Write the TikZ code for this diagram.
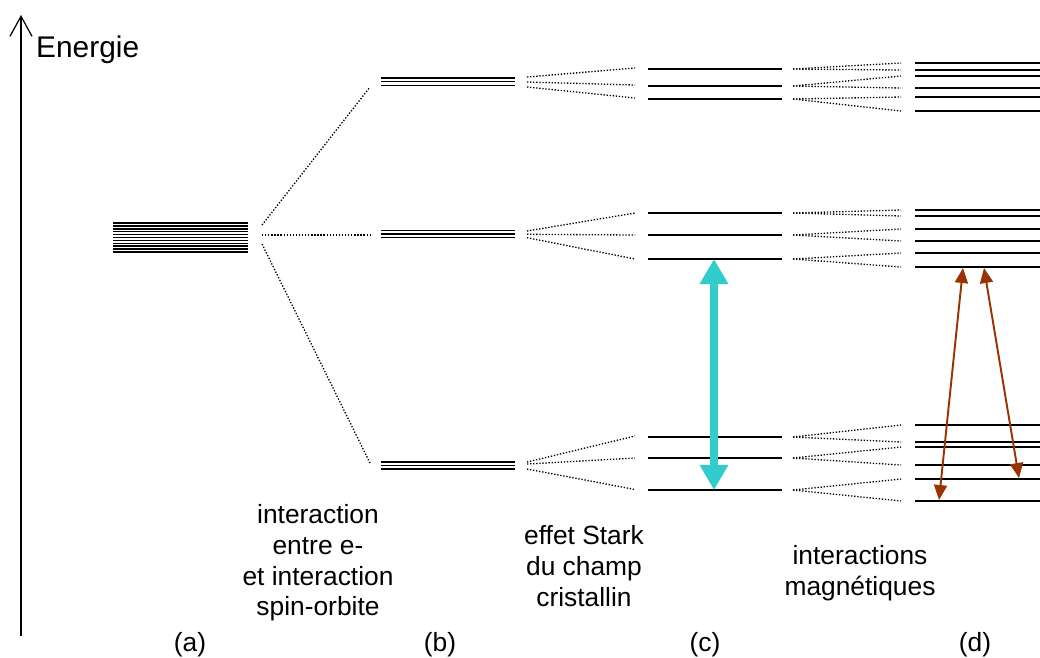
\documentclass[tikz,border=0pt]{standalone}
\usepackage{fontspec}
\setmainfont{Liberation Sans}
\usetikzlibrary{arrows.meta}
\definecolor{turq}{RGB}{51,204,204}
\definecolor{rust}{RGB}{153,51,0}

\begin{document}
\begin{tikzpicture}
  [
    x=0.02cm, y=-0.02cm,
    level/.style = {line width=0.85pt},
    fan/.style   = {densely dotted, line width=0.75pt},
    lbl/.style   = {font=\fontsize{15}{17.5}\selectfont, align=center},
  ]
\useasboundingbox (0,0) rectangle (1040,657);

%Left and right ends of the level columns
\def \laA{113} \def \raA{248}
\def \laB{381} \def \raB{515}
\def \laC{648} \def \raC{782}
\def \laD{915} \def \raD{1040}

%Energy axis
\draw[line width=0.9pt, -{Straight Barb[length=0.4cm,width=0.44cm,line width=0.7pt]}] (21,636) -- (21,15);
\node[anchor=west, font=\fontsize{17}{20}\selectfont] (energie) at (30,50) {Energie};

%(a) degenerate levels
\foreach \i in {0,...,10}
{
\draw[level] (\laA,223+\i*2.9) -- (\raA,223+\i*2.9);
}

%(b) levels
\foreach \y in {78,81.7,85.4,230.7,234,237.3,462,465.5,469}
{
\draw[level] (\laB,\y) -- (\raB,\y);
}

%(a) to (b)
\foreach \s/\e in {225/87,235/235,244/463}
{
\draw[fan] (262,\s) -- (370,\e);
}

%(b) to (c)
\foreach \s/\e in {77/68,82/85,87/98,231/213,234.3/235,237.7/259,462/436,464/458,469/489.5}
{
\draw[fan] (527,\s) -- (635,\e);
}

%(c) levels
\foreach \y in {69,86,99,213,235,259,437,458,490}
{
\draw[level] (\laC,\y) -- (\raC,\y);
}

%(c) to (d), each level splits in two
\foreach \s/\ea/\eb in {69/63/70,86/76/88,99/97/111,213/210/216,235/229/241,259/253/267,437/425/442,458/447/465,490/479/501}
{
\draw[fan] (793,\s) -- (901,\ea);
\draw[fan] (793,\s) -- (901,\eb);
\draw[level] (\laD,\ea) -- (\raD,\ea);
\draw[level] (\laD,\eb) -- (\raD,\eb);
}

%Transitions
\coordinate (cTop) at (714,259);
\coordinate (cBot) at (714,490);
\draw[turq, line width=4.5pt, {Triangle[length=0.5cm,width=0.54cm]}-{Triangle[length=0.5cm,width=0.54cm]}] (cTop) -- (cBot);

\coordinate (dTopA) at (963,268);
\coordinate (dBotA) at (939,500);
\coordinate (dTopB) at (984,268);
\coordinate (dBotB) at (1019,478);
\draw[rust, line width=1.1pt, {Triangle[length=0.3cm,width=0.26cm]}-{Triangle[length=0.3cm,width=0.26cm]}] (dTopA) -- (dBotA);
\draw[rust, line width=1.1pt, {Triangle[length=0.3cm,width=0.26cm]}-{Triangle[length=0.3cm,width=0.26cm]}] (dTopB) -- (dBotB);

%Labels
\node[lbl] (spinorb) at (318,563) {interaction\\entre e-\\et interaction\\spin-orbite};
\node[lbl] (stark) at (584,566) {effet Stark\\du champ\\cristallin};
\node[lbl] (magn) at (860,573) {interactions\\magnétiques};

\foreach [count=\i] \j/\x in {a/190,b/440,c/705,d/975}
{
\node[lbl] (col\i) at (\x,645) {(\j)};
}
\end{tikzpicture}
\end{document}
